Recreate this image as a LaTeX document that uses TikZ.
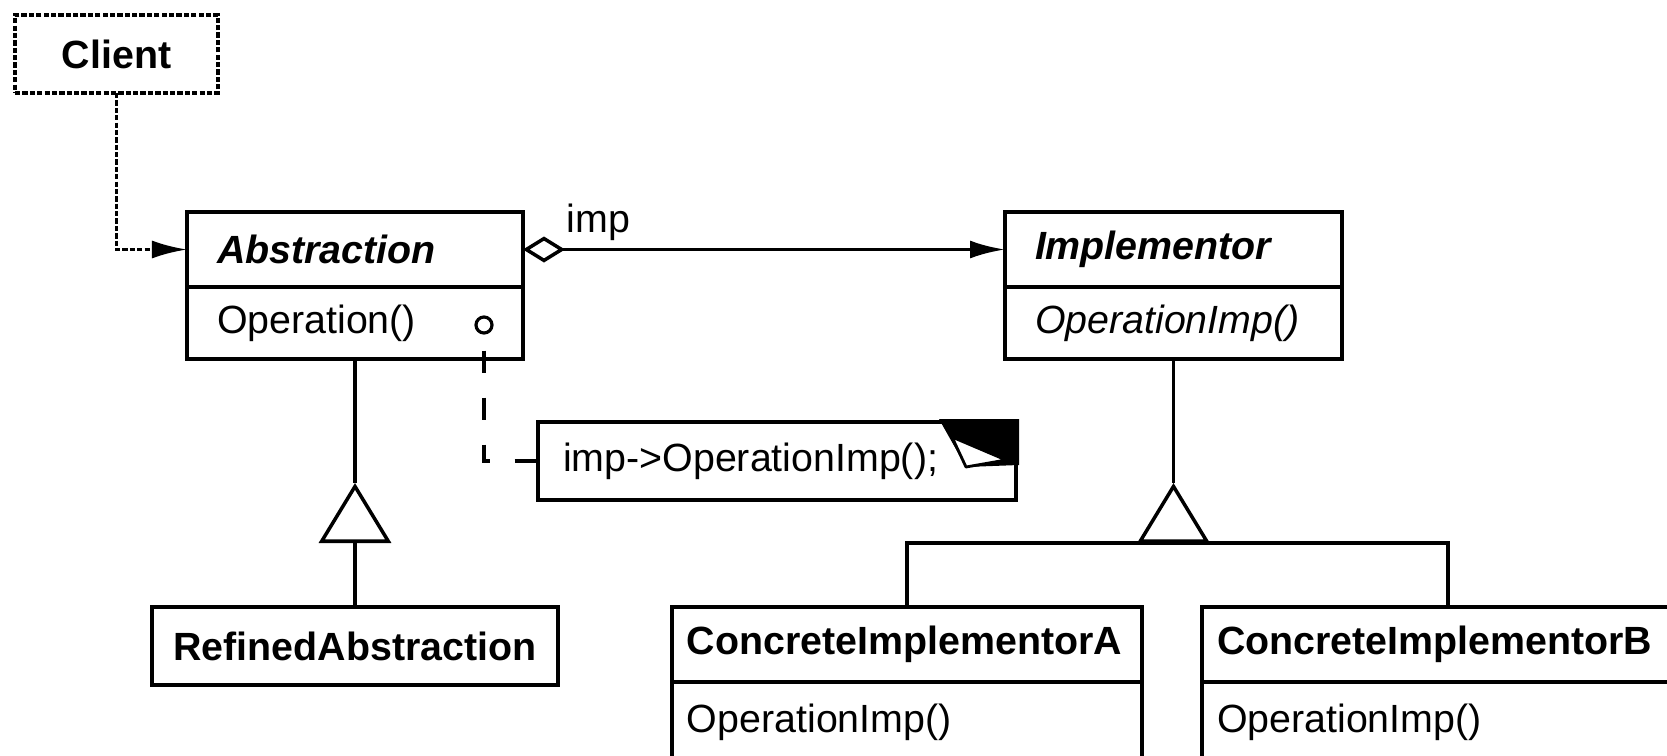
\documentclass[tikz,border=0pt]{standalone}
\usepackage{fontspec}
\setmainfont{Liberation Sans}
\usetikzlibrary{arrows.meta}
\usetikzlibrary{calc}
\usetikzlibrary{positioning}
\hyphenpenalty=10000
\exhyphenpenalty=10000

\tikzset{
  every node/.style={font=\fontsize{11.2}{13.4}\selectfont},
  namebox/.style={draw, rectangle, line width=1.1pt, outer sep=0pt, anchor=north west, inner xsep=0.3cm, inner ysep=0pt, minimum height=0.75cm, align=left},
  opbox/.style={namebox, minimum height=0.72cm},
  plainbox/.style={draw, rectangle, line width=1.1pt, outer sep=0pt, anchor=north west, inner sep=0pt, minimum height=0.78cm, align=center},
  clientbox/.style={plainbox, line width=0.9pt, dash pattern=on 1.5pt off 0.6pt},
  notebox/.style={namebox, inner xsep=0.25cm, minimum height=0.78cm},
  dep/.style={line width=0.9pt, dash pattern=on 1.5pt off 0.6pt, -{Latex[length=0.35cm, width=0.18cm]}},
  aggr/.style={line width=1pt, {Diamond[open, length=0.42cm, width=0.26cm]}-{Latex[length=0.35cm, width=0.18cm]}},
  inh/.style={line width=1pt, -{Triangle[open, length=0.6cm, width=0.72cm]}},
  link/.style={line width=1pt},
  notelink/.style={line width=1.1pt, dash pattern=on 0.22cm off 0.25cm, dash phase=0.31cm},
}

\begin{document}
\begin{tikzpicture}
    \clip (0,0) rectangle (16.67,-7.56);

    % classes
    \node[clientbox, minimum width=2.03cm] (client) at (0.15,-0.15) {\bfseries Client};

    \node[namebox, text width=2.76cm] (absname) at (1.87,-2.12) {\bfseries\itshape Abstraction};
    \node[opbox, text width=2.76cm] (absop) at (absname.south west) {Operation()};

    \node[namebox, text width=2.77cm] (impname) at (10.05,-2.12) {\bfseries\itshape Implementor};
    \node[opbox, text width=2.77cm] (impop) at (impname.south west) {\itshape OperationImp()};

    \node[plainbox, minimum width=4.06cm] (refined) at (1.52,-6.07) {\bfseries RefinedAbstraction};

    \node[namebox, inner xsep=0.15cm, text width=4.40cm] (cianame) at (6.72,-6.07) {\bfseries ConcreteImplementorA};
    \node[opbox, inner xsep=0.15cm, text width=4.40cm, minimum height=0.8cm] (ciaop) at (cianame.south west) {OperationImp()};

    \node[namebox, inner xsep=0.15cm, text width=4.62cm] (cibname) at (12.02,-6.07) {\bfseries ConcreteImplementorB};
    \node[opbox, inner xsep=0.15cm, text width=4.62cm, minimum height=0.8cm] (cibop) at (cibname.south west) {OperationImp()};

    % note with folded corner
    \node[notebox, text width=4.28cm] (note) at (5.38,-4.22) {imp->OperationImp();};
    \fill ($(note.north east)+(-0.77,0.03)$) -- ($(note.north east)+(0.03,0.03)$) -- ($(note.north east)+(0.03,-0.43)$) -- ($(note.north east)+(-0.50,-0.45)$) -- cycle;
    \filldraw[fill=white, line width=0.8pt, line join=round] ($(note.north east)+(-0.64,-0.15)$) -- ($(note.north east)+(-0.10,-0.38)$) -- ($(note.north east)+(-0.50,-0.45)$) -- cycle;

    \node[circle, draw, line width=0.9pt, inner sep=0pt, minimum size=0.16cm] (dot) at (4.84,-3.25) {};

    % connectors
    \coordinate (absapex) at (absop.south |- 0,-4.83);
    \coordinate (impapex) at (impop.south |- 0,-4.83);
    \coordinate (impbase) at (impop.south |- 0,-5.43);

    \draw[dep] (client.south) |- (absname.west);
    \draw[aggr] (absname.east) -- node[pos=0, anchor=base west, xshift=0.30cm, yshift=0.17cm] (implbl) {imp} (impname.west);
    \draw[link] (absop.south) -- (absapex);
    \draw[inh] (refined.north) -- (absapex);
    \draw[link] (impop.south) -- (impapex);
    \draw[inh] (impbase) -- (impapex);
    \draw[link] (cianame.north) |- (impbase) -| (cibname.north);
    \draw[notelink] (dot.south) |- (note.west);
\end{tikzpicture}
\end{document}
